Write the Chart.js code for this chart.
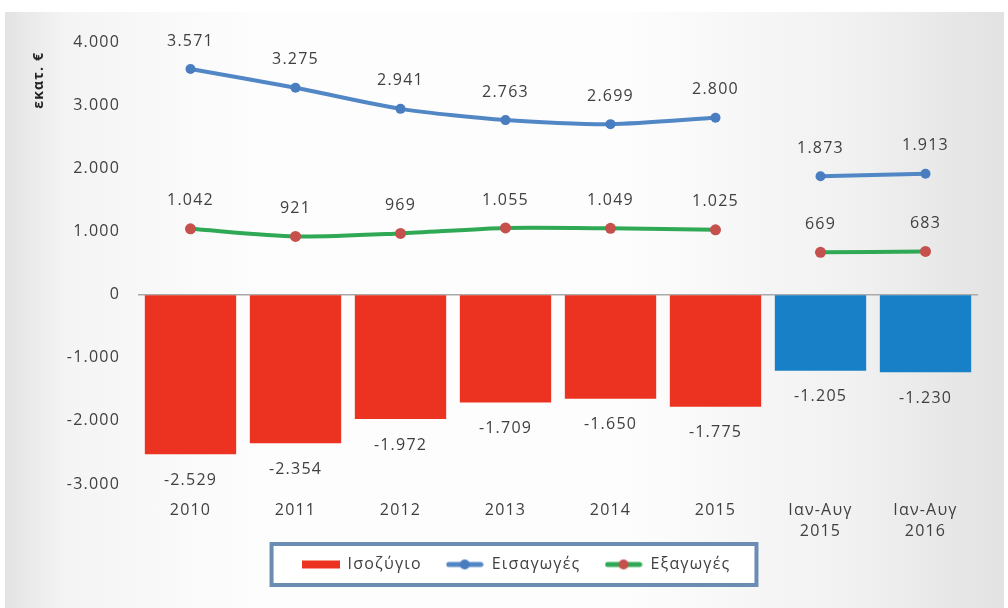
<!DOCTYPE html>
<html>
<head>
<meta charset="utf-8">
<script src="https://cdn.jsdelivr.net/npm/chart.js@4.4.1/dist/chart.umd.min.js"></script>
<style>
  html, body { margin: 0; padding: 0; background: #fff; }
  #wrap {
    position: relative;
    width: 1008px;
    height: 608px;
    overflow: hidden;
  }
  #panel {
    position: absolute;
    left: 5px; top: 12px; right: 4px; bottom: 0;
    background: linear-gradient(to right, #e3e3e3 0%, #f4f4f4 6%, #fdfdfd 25%, #fdfdfd 62%, #f1f1f1 85%, #e2e2e2 100%);
  }
  #myChart { position: absolute; left: 0; top: 0; }
</style>
</head>
<body>
<div id="wrap">
  <div id="panel"></div>
  <canvas id="myChart" width="1008" height="608"></canvas>
</div>
<script>
const ctx = document.querySelector('#myChart')

// values in million euro
const categories = ['2010', '2011', '2012', '2013', '2014', '2015', ['Ιαν-Αυγ', '2015'], ['Ιαν-Αυγ', '2016']]
const balance = [-2529, -2354, -1972, -1709, -1650, -1775, -1205, -1230]
const imports = [3571, 3275, 2941, 2763, 2699, 2800, 1873, 1913]
const exports = [1042, 921, 969, 1055, 1049, 1025, 669, 683]

const RED = '#ec3322'
const BLUE_BAR = '#1780c7'
const BLUE_LINE = '#5287c6'
const BLUE_DOT = '#4a7cc0'
const GREEN = '#2fa955'
const DOT = '#c5504c'
const TEXT = '#404040'
const FONT = "'Open Sans', 'Noto Sans', sans-serif"
const SPACING = '1.2px'
const LEGEND_PAD = 24

// partial-year columns (Jan-Aug) are drawn in blue and their lines are separate
const isPartial = i => Array.isArray(categories[i])
const barColors = categories.map((c, i) => isPartial(i) ? BLUE_BAR : RED)
const fullYears = arr => arr.map((v, i) => isPartial(i) ? null : v)
const partYears = arr => arr.map((v, i) => isPartial(i) ? v : null)

const fmt = v => (v < 0 ? '-' : '') + String(Math.abs(v)).replace(/\B(?=(\d{3})+(?!\d))/g, '.')

function legendIcon(kind, color, dot) {
    const c = document.createElement('canvas')
    c.width = 38
    c.height = 12
    const g = c.getContext('2d')
    if (kind === 'bar') {
        g.fillStyle = color
        g.fillRect(0, 2, 38, 8)
    } else {
        g.strokeStyle = color
        g.lineWidth = 5
        g.lineCap = 'round'
        g.beginPath()
        g.moveTo(3, 6)
        g.lineTo(35, 6)
        g.stroke()
        g.fillStyle = dot
        g.beginPath()
        g.arc(19, 6, 5, 0, Math.PI * 2)
        g.fill()
    }
    return c
}
const icons = [
    legendIcon('bar', RED),
    legendIcon('line', BLUE_LINE, BLUE_DOT),
    legendIcon('line', GREEN, DOT)
]

function lineSet(label, data, color, dot, radius) {
    return {
        type: 'line',
        label: label,
        data: data,
        borderColor: color,
        borderWidth: 4,
        tension: 0.25,
        pointRadius: radius,
        pointBackgroundColor: dot,
        pointBorderWidth: 0,
        spanGaps: false
    }
}

// wider text spacing for every label on the canvas
const textSpacing = {
    id: 'textSpacing',
    beforeLayout(chart) { chart.ctx.letterSpacing = SPACING },
    beforeDraw(chart) { chart.ctx.letterSpacing = SPACING }
}

// value labels: above the line points, under the bars
const valueLabels = {
    id: 'valueLabels',
    afterDatasetsDraw(chart) {
        const c = chart.ctx
        c.save()
        c.font = '16px ' + FONT
        c.fillStyle = TEXT
        c.textAlign = 'center'
        c.textBaseline = 'middle'
        chart.data.datasets.forEach((ds, di) => {
            const meta = chart.getDatasetMeta(di)
            meta.data.forEach((el, i) => {
                const v = ds.data[i]
                if (v === null) return
                const y = ds.type === 'line' ? el.y - 28 : el.y + 26
                c.fillText(fmt(v), el.x, y)
            })
        })
        c.restore()
    }
}

// framed legend: nudged right and up after the layout is done
const legendFrame = {
    id: 'legendFrame',
    afterLayout(chart) {
        const lg = chart.legend
        lg.left += 17
        lg.right += 17
        lg.top -= 10
        lg.bottom -= 10
    },
    beforeDraw(chart) {
        const lg = chart.legend
        const boxes = lg.legendHitBoxes
        if (!boxes || !boxes.length) return
        const first = boxes[0]
        const last = boxes[boxes.length - 1]
        const x = first.left - 30
        const w = last.left + last.width + 26 - x
        const y = lg.top + LEGEND_PAD - 12.5
        const h = 41
        const c = chart.ctx
        c.save()
        c.fillStyle = '#ffffff'
        c.fillRect(x, y, w, h)
        c.strokeStyle = '#6b8cb3'
        c.lineWidth = 4
        c.strokeRect(x, y, w, h)
        c.restore()
    }
}

new Chart(ctx, {
    data: {
        labels: categories,
        datasets: [{
            type: 'bar',
            label: 'Ισοζύγιο',
            data: balance,
            backgroundColor: barColors,
            barPercentage: 0.87,
            categoryPercentage: 1
        },
        lineSet('Εισαγωγές', fullYears(imports), BLUE_LINE, BLUE_DOT, 5),
        lineSet('Εξαγωγές', fullYears(exports), GREEN, DOT, 5.5),
        lineSet('Εισαγωγές', partYears(imports), BLUE_LINE, BLUE_DOT, 5),
        lineSet('Εξαγωγές', partYears(exports), GREEN, DOT, 5.5)]
    },
    options: {
        responsive: false,
        animation: false,
        layout: { padding: { left: 20, right: 30, top: 42, bottom: 15.5 } },
        plugins: {
            tooltip: { enabled: false },
            legend: {
                position: 'bottom',
                labels: {
                    usePointStyle: true,
                    pointStyleWidth: 38,
                    boxHeight: 12,
                    padding: LEGEND_PAD,
                    color: TEXT,
                    font: { family: FONT, size: 16 },
                    filter: item => item.datasetIndex < 3,
                    generateLabels(chart) {
                        return Chart.defaults.plugins.legend.labels.generateLabels(chart).map(item => {
                            item.pointStyle = icons[item.datasetIndex]
                            return item
                        })
                    }
                }
            }
        },
        scales: {
            x: {
                grid: { display: false, drawTicks: false },
                border: { display: false },
                ticks: {
                    padding: 16.5,
                    color: TEXT,
                    font: { family: FONT, size: 16, lineHeight: 1.3 },
                    maxRotation: 0
                },
                afterFit: s => { s.height = 58.5 }
            },
            y: {
                min: -3000,
                max: 4000,
                grid: {
                    drawTicks: false,
                    color: c => c.tick.value === 0 ? '#a9a9a9' : 'rgba(0,0,0,0)',
                    lineWidth: 1.5
                },
                border: { display: false },
                ticks: {
                    stepSize: 1000,
                    padding: 18,
                    color: TEXT,
                    font: { family: FONT, size: 16 },
                    callback: v => fmt(v)
                },
                title: {
                    display: true,
                    text: 'εκατ. €  ',
                    align: 'end',
                    color: '#222',
                    padding: { top: 11, bottom: 0 },
                    font: { family: FONT, size: 14, weight: 'bold' }
                },
                afterFit: s => { s.width = 118 }
            }
        }
    },
    plugins: [textSpacing, valueLabels, legendFrame]
})
</script>
</body>
</html>
